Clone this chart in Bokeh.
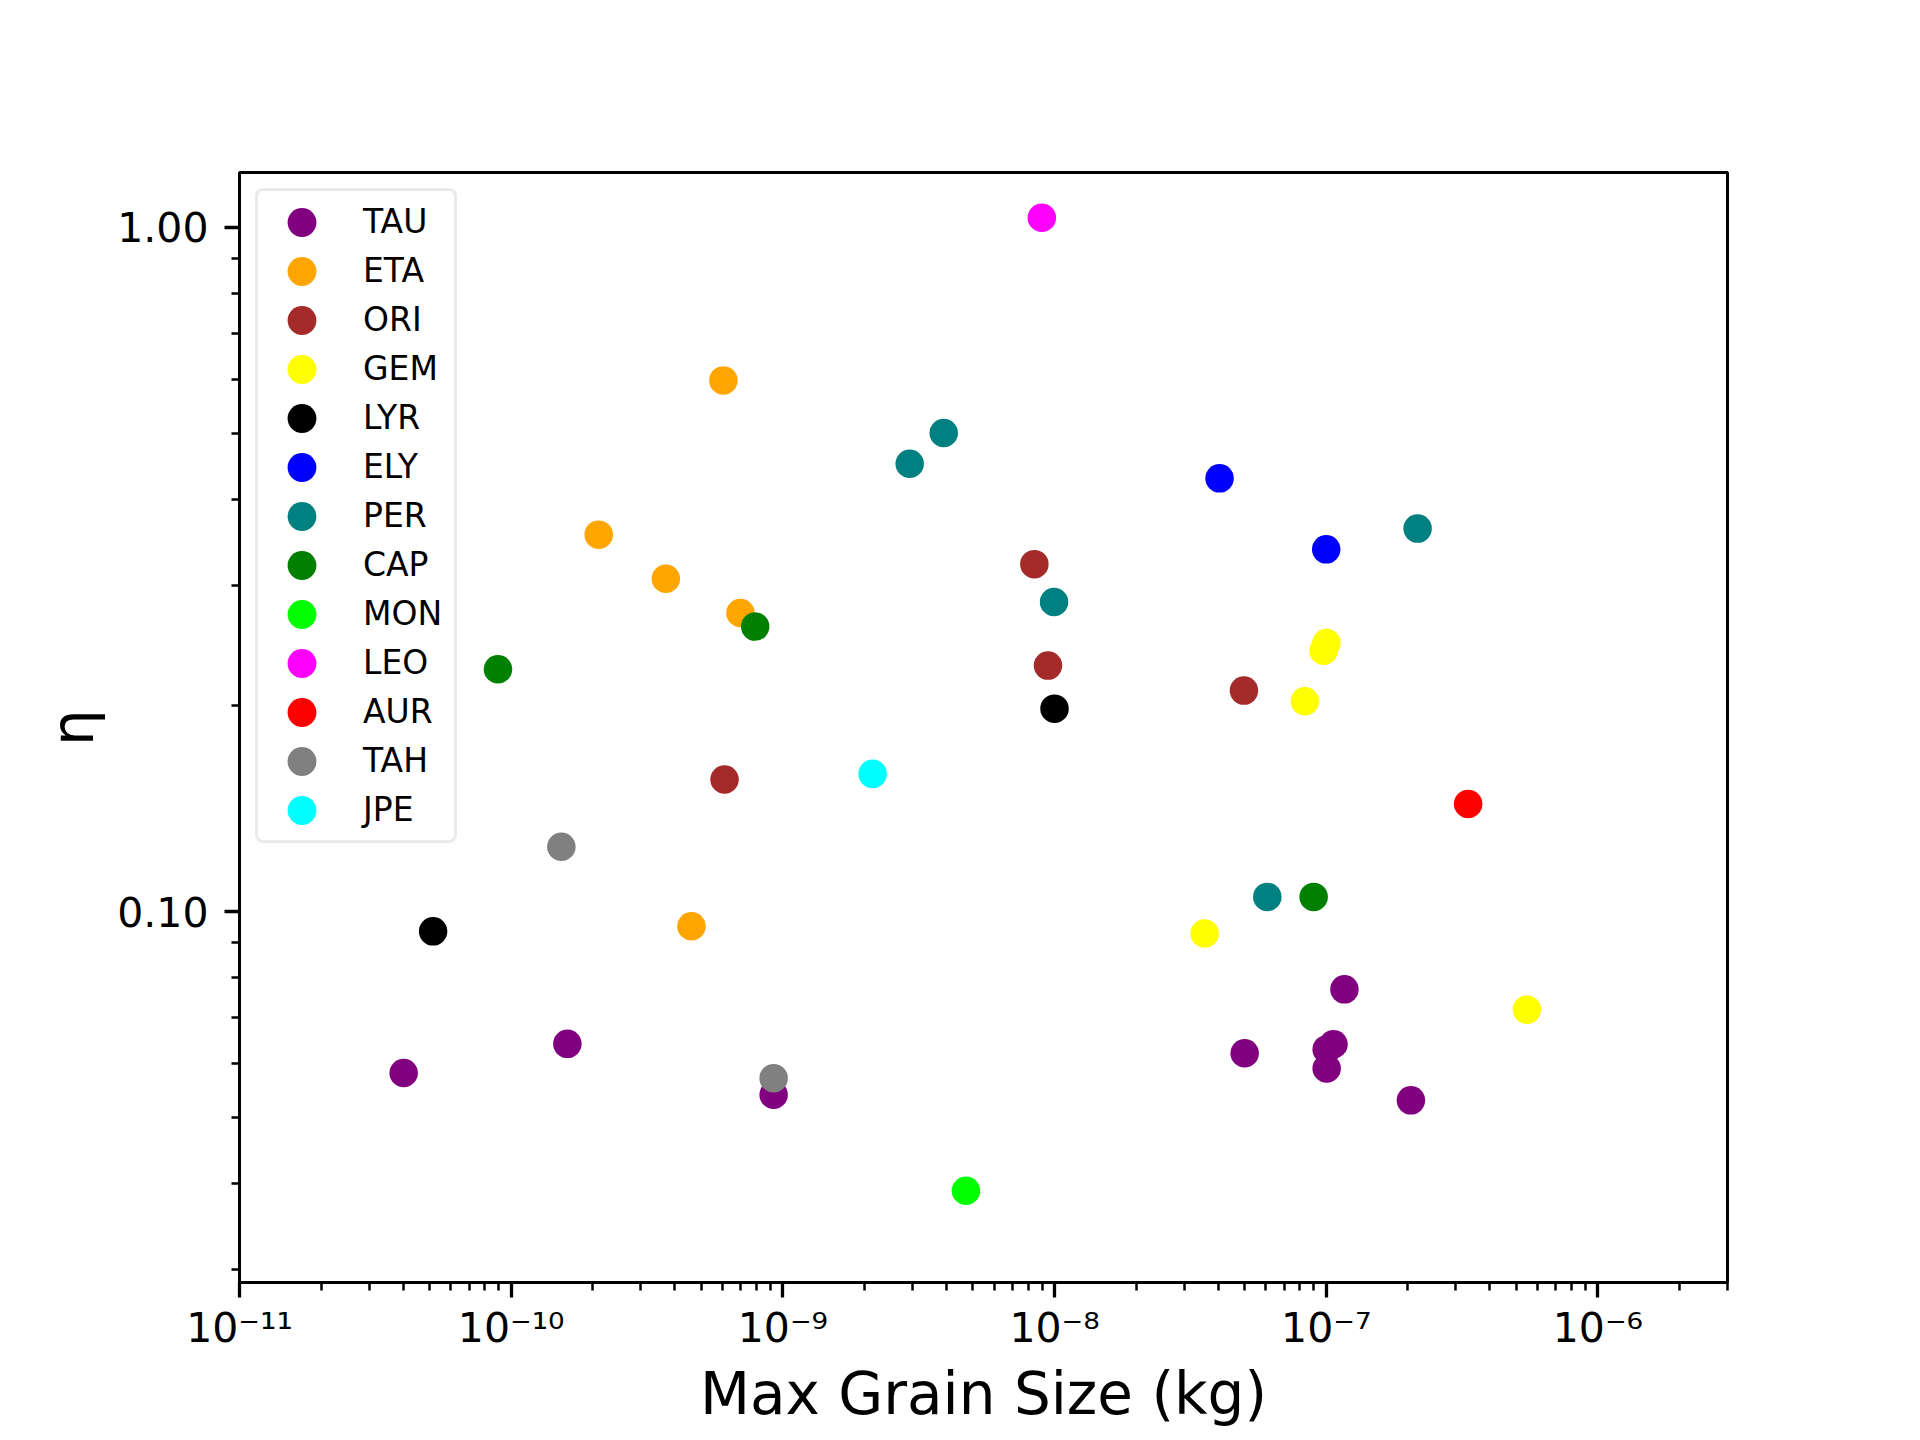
from bokeh.plotting import figure
from bokeh.models import (Range1d, FixedTicker, CustomJSTickFormatter, Legend,
                          LegendItem)
from bokeh.embed import file_html
from bokeh.resources import INLINE

# ---------------- data ----------------
showers = ["TAU", "ETA", "ORI", "GEM", "LYR", "ELY", "PER", "CAP", "MON",
           "LEO", "AUR", "TAH", "JPE"]
colors = ["purple", "orange", "brown", "yellow", "black", "blue", "teal",
          "green", "lime", "magenta", "red", "gray", "cyan"]

tau_mass = [4.02e-11, 1.61e-10, 9.25e-10, 5.01e-8, 1.004e-7, 1.004e-7, 1.064e-7, 1.167e-7, 2.05e-7]
tau_eta = [0.0581, 0.0641, 0.0540, 0.0621, 0.0590, 0.0629, 0.0640, 0.0770, 0.0530]
eta_mass = [6.04e-10, 2.10e-10, 3.71e-10, 6.98e-10, 4.61e-10]
eta_eta = [0.5976, 0.3556, 0.3066, 0.2732, 0.0952]
ori_mass = [8.43e-9, 9.46e-9, 4.98e-8, 6.10e-10]
ori_eta = [0.322, 0.2289, 0.2104, 0.156]
gem_mass = [1.002e-7, 9.78e-8, 8.34e-8, 3.57e-8, 5.48e-7]
gem_eta = [0.2469, 0.2407, 0.2030, 0.0929, 0.0719]
lyr_mass = [1.0e-8, 5.16e-11]
lyr_eta = [0.198, 0.0936]
ely_mass = [4.05e-8, 1.0e-7]
ely_eta = [0.4298, 0.3385]
per_mass = [3.91e-9, 2.93e-9, 9.96e-9, 2.17e-7, 6.07e-8]
per_eta = [0.5006, 0.4514, 0.2835, 0.363, 0.1051]
cap_mass = [8.94e-11, 7.91e-10, 8.99e-8]
cap_eta = [0.2261, 0.261, 0.1051]
mon_mass = [4.72e-9]
mon_eta = [0.0391]
leo_mass = [8.98e-9]
leo_eta = [1.033]
aur_mass = [3.33e-7]
aur_eta = [0.1437]
tah_mass = [1.53e-10, 9.25e-10]
tah_eta = [0.1244, 0.0571]
jpe_mass = [2.14e-9]
jpe_eta = [0.159]

series_mass = [tau_mass, eta_mass, ori_mass, gem_mass, lyr_mass, ely_mass, per_mass,
               cap_mass, mon_mass, leo_mass, aur_mass, tah_mass, jpe_mass]
series_eta = [tau_eta, eta_eta, ori_eta, gem_eta, lyr_eta, ely_eta, per_eta,
              cap_eta, mon_eta, leo_eta, aur_eta, tah_eta, jpe_eta]

x_limits = (1e-11, 3.0e-6)
y_limits = (0.02871, 1.203)
x_major = [1e-11, 1e-10, 1e-9, 1e-8, 1e-7, 1e-6]
x_minor = [m * d for d in [1e-11, 1e-10, 1e-9, 1e-8, 1e-7, 1e-6] for m in range(2, 10)]
y_major = [0.1, 1.0]
y_minor = [m * d for d in [0.01, 0.1] for m in range(2, 10)]

x_label = "Max Grain Size (kg)"
y_label = "η"

# ---------------- figure ----------------
FONT = "DejaVu Sans"
MARK = 28.5

p = figure(x_axis_type="log", y_axis_type="log",
           x_range=Range1d(*x_limits), y_range=Range1d(*y_limits),
           frame_width=1488, frame_height=1110,
           min_border_left=239, min_border_top=172,
           min_border_right=150, min_border_bottom=140,
           output_backend="svg", toolbar_location=None)

p.background_fill_color = "white"
p.border_fill_color = "white"
p.xgrid.visible = False
p.ygrid.visible = False
p.outline_line_color = "black"
p.outline_line_width = 3

renderers = []
for mass, eta, col in zip(series_mass, series_eta, colors):
    r = p.ellipse(x=mass, y=eta, width=MARK, height=MARK,
                  width_units="screen", height_units="screen",
                  fill_color=col, line_color=None)
    renderers.append(r)

# axes
xa = p.xaxis[0]
ya = p.yaxis[0]
xa.ticker = FixedTicker(ticks=x_major, minor_ticks=x_minor)
ya.ticker = FixedTicker(ticks=y_major, minor_ticks=y_minor)

xa.formatter = CustomJSTickFormatter(code="""
const sup = {'-': '\u207b', '0': '\u2070', '1': '\u00b9', '2': '\u00b2', '3': '\u00b3',
             '4': '\u2074', '5': '\u2075', '6': '\u2076', '7': '\u2077', '8': '\u2078', '9': '\u2079'};
const e = Math.round(Math.log10(tick));
return '10' + String(e).split('').map(c => sup[c]).join('');
""")
ya.formatter = CustomJSTickFormatter(code="return tick.toFixed(2);")

for ax in (xa, ya):
    ax.axis_line_width = 3
    ax.axis_line_color = "black"
    ax.major_tick_line_width = 3.3
    ax.minor_tick_line_width = 2.5
    ax.major_tick_out = 15
    ax.major_tick_in = 0
    ax.minor_tick_out = 8
    ax.minor_tick_in = 0
    ax.major_label_text_font = FONT
    ax.major_label_text_font_size = "41px"
    ax.major_label_text_color = "black"
    ax.axis_label_text_font = FONT
    ax.axis_label_text_font_size = "58px"
    ax.axis_label_text_font_style = "normal"
    ax.axis_label_text_color = "black"

xa.axis_label = x_label
ya.axis_label = y_label
xa.major_label_standoff = 6
ya.major_label_standoff = 16
xa.axis_label_standoff = 5
ya.axis_label_standoff = 7

# legend
items = [LegendItem(label=name, renderers=[r]) for name, r in zip(showers, renderers)]
legend = Legend(items=items, location="top_left", margin=16,
                glyph_width=65, glyph_height=36, spacing=10, padding=11,
                label_standoff=29, label_width=80, label_height=37,
                label_text_font=FONT, label_text_font_size="33px",
                label_text_color="black",
                label_text_baseline="middle",
                border_line_color="#d6d6d6", border_line_width=3,
                background_fill_color="white", background_fill_alpha=0.8)
if "border_radius" in Legend.properties():
    legend.border_radius = 8
p.add_layout(legend)

open("out.html", "w").write(file_html(p, INLINE))
